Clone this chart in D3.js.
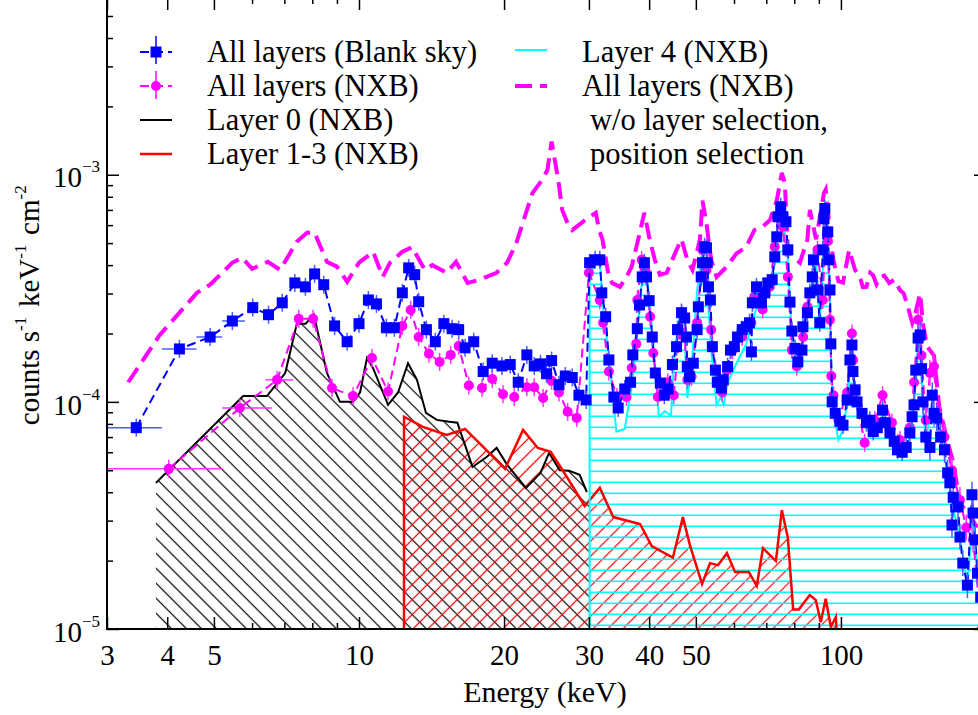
<!DOCTYPE html>
<html>
<head>
<meta charset="utf-8">
<style>
  body { margin: 0; background: #fff; }
  svg { display: block; font-family: "Liberation Serif", "Times New Roman", serif; }
</style>
</head>
<body>
<svg width="978" height="715"></svg>
<script src="https://cdn.jsdelivr.net/npm/d3@7"></script>
<script>
// ---- data: [energy keV, counts s^-1 keV^-1 cm^-2] ----
const blankSky = [[3.45,7.7e-5],[4.24,1.71e-4],[4.91,1.93e-4],[5.46,2.27e-4],[6.02,2.6e-4],[6.49,2.42e-4],[6.93,2.73e-4],[7.36,3.34e-4],[7.74,3.21e-4],[8.09,3.66e-4],[8.45,3.28e-4],[8.9,2.16e-4],[9.45,1.84e-4],[10.0,2.21e-4],[10.46,2.81e-4],[10.87,2.7e-4],[11.4,2.12e-4],[11.84,2.12e-4],[12.3,3.02e-4],[12.68,3.89e-4],[13.05,3.63e-4],[13.3,2.76e-4],[13.8,2.08e-4],[14.4,1.84e-4],[15.0,2.21e-4],[15.6,2.1e-4],[16.1,2.08e-4],[16.6,1.73e-4],[17.3,1.84e-4],[18.1,1.36e-4],[18.9,1.48e-4],[19.8,1.44e-4],[20.6,1.46e-4],[21.4,1.22e-4],[22.3,1.61e-4],[23.1,1.44e-4],[23.8,1.47e-4],[24.5,1.33e-4],[25.1,1.52e-4],[26.0,1.19e-4],[26.8,1.3e-4],[27.7,1.28e-4],[28.6,1.07e-4],[29.6,1.02e-4],
  [30.1,4.1e-4],[30.9,4.22e-4],[31.6,4.22e-4],[31.9,3.02e-4],[32.5,2.37e-4],[33.0,1.53e-4],[33.8,1.05e-4],[34.5,9.4e-5],[35.6,1.14e-4],[36.6,1.22e-4],[37.0,1.61e-4],[37.8,2.1e-4],[38.2,2.67e-4],[38.7,3.55e-4],[39.1,4.1e-4],[39.5,3.55e-4],[40.0,2.79e-4],[40.6,1.93e-4],[41.2,1.34e-4],[42.2,1.21e-4],[43.0,1.07e-4],[43.8,1.14e-4],[44.7,1.46e-4],[45.6,1.75e-4],[45.8,2.08e-4],[46.7,2.47e-4],[47.4,2.34e-4],[47.8,1.93e-4],[48.0,1.43e-4],[48.5,1.29e-4],[49.4,1.48e-4],[50.3,2.08e-4],[50.6,2.62e-4],[51.3,3.55e-4],[51.6,4.1e-4],[52.1,4.82e-4],[52.6,4.77e-4],[52.8,4.1e-4],[53.1,3.21e-4],[53.6,2.81e-4],[54.1,1.75e-4],[54.9,1.38e-4],[55.4,1.22e-4],[56.5,1.15e-4],[57.0,1.25e-4],[58.2,1.43e-4],[59.0,1.69e-4],[60.1,1.75e-4],[61.0,1.93e-4],[62.4,2.08e-4],[63.6,2.14e-4],[64.6,2.23e-4],[65.2,1.66e-4],[65.5,2.73e-4],[66.8,3.21e-4],[68.4,2.73e-4],[69.5,3.02e-4],[70.5,3.34e-4],[72.0,3.45e-4],[72.9,4.35e-4],[73.6,5.33e-4],[74.0,6.53e-4],[75.0,7.23e-4],[75.8,6.53e-4],[76.9,6.21e-4],[77.6,4.67e-4],[78.4,2.75e-4],[79.1,2.05e-4],[80.3,1.72e-4],[81.4,1.5e-4],[83.0,1.69e-4],[83.4,2.14e-4],[85.2,2.47e-4],[86.2,3.02e-4],[87.2,3.55e-4],[87.7,4.22e-4],[89.4,3.11e-4],[90.4,2.23e-4],[91.7,4.67e-4],[92.2,6.4e-4],[92.6,7.1e-4],[93.9,5.6e-4],[94.4,4.22e-4],[94.9,3.11e-4],[95.3,1.8e-4],[95.9,1.0e-4],[97.3,8.9e-5],[99.5,8.2e-5],[101,7.9e-5],[103,1.02e-4],[104.4,1.53e-4],[105.4,1.78e-4],[105.9,1.36e-4],[107,1.13e-4],[108,1.0e-4],[110.6,8.9e-5],[113,8.1e-5],[114.8,8.3e-5],[116.7,7.4e-5],[119,7.7e-5],[122,9.2e-5],[123.6,8.1e-5],[126.4,7.3e-5],[129,6.7e-5],[131,6.15e-5],[134,6.0e-5],[136.6,6.3e-5],[139,7.3e-5],[140.5,8.6e-5],[141.8,9.7e-5],[143,1.38e-4],[144.6,1.91e-4],[146,1.97e-4],[147,1.4e-4],[148,1.0e-4],[150,7.0e-5],[153,6.3e-5],[154.7,1.07e-4],[156,8.9e-5],[158,8.5e-5],[161,7.0e-5],[164,6.15e-5],[166.5,4.87e-5],[168.3,4.4e-5],[170,2.87e-5],[171,3.8e-5],[175,3.45e-5],[176.6,2.54e-5],[179,1.95e-5],[183,1.56e-5],[187,3.9e-5],[188,3.24e-5],[190,2.47e-5],[192,1.76e-5],[195,1.38e-5]];
const blankSkyBins = [[3.0,3.9],[3.9,4.6],[4.6,5.2],[5.2,5.8]];

const nxbAll = [[4.03,5.07e-5],[5.66,9.4e-5],[6.76,1.25e-4],[7.5,2.32e-4],[8.03,2.32e-4],[8.79,1.15e-4],[9.72,1.06e-4],[10.64,1.56e-4],[11.49,1.11e-4],[12.3,2.16e-4],[12.8,2.54e-4],[13.3,1.93e-4],[13.97,1.63e-4],[14.7,1.5e-4],[15.5,1.61e-4],[16.1,1.76e-4],[16.9,1.18e-4],[18.0,1.15e-4],[18.9,1.26e-4],[19.9,1.08e-4],[21.0,1.05e-4],[22.3,1.16e-4],[23.1,1.16e-4],[24.1,1.04e-4],[25.1,1.24e-4],[26.0,1.1e-4],[27.1,9.04e-5],[28.3,8.5e-5],
  [30.0,3.7e-4],[31.6,2.8e-4],[32.1,2.23e-4],[33.0,1.36e-4],[34.3,1.05e-4],[35.9,1.05e-4],[36.8,1.41e-4],[37.6,1.8e-4],[37.8,2.81e-4],[38.6,4.22e-4],[39.3,3.8e-4],[40.2,2.37e-4],[40.8,1.64e-4],[41.7,1.05e-4],[43.7,1.22e-4],[45.0,1.07e-4],[46.7,2.47e-4],[47.4,1.93e-4],[48.0,1.25e-4],[49.0,1.29e-4],[50.3,2.23e-4],[51.6,4.67e-4],[52.6,3.8e-4],[53.8,2.08e-4],[55.4,1.21e-4],[56.7,1.1e-4],[58.0,1.38e-4],[59.6,1.69e-4],[62.4,1.93e-4],[65.2,2.23e-4],[66.1,2.9e-4],[68.8,2.55e-4],[71.2,3.21e-4],[72.9,4.82e-4],[74.0,6.53e-4],[75.8,5.9e-4],[77.6,3.55e-4],[79.1,1.69e-4],[81.0,1.43e-4],[83.5,1.93e-4],[85.2,2.62e-4],[87.7,3.55e-4],[89.4,4.67e-4],[91.7,2.81e-4],[93.0,6.53e-4],[93.9,5.1e-4],[94.9,2.3e-4],[95.5,1.3e-4],[96.5,1.07e-4],[98.8,8.3e-5],[103,1.1e-4],[105.4,2.0e-4],[106,1.53e-4],[107,1.1e-4],[112,6.6e-5],[117.6,8.3e-5],[122,1.07e-4],[127.6,8.1e-5],[132.6,6.8e-5],[139,7.7e-5],[141.8,1.22e-4],[144.6,2.3e-4],[147,1.6e-4],[150,8.3e-5],[153,1.34e-4],[156,1.43e-4],[159,8.3e-5],[164,7.0e-5],[170,5.0e-5],[176.6,3.7e-5],[182,2.8e-5],[188,2.47e-5],[196,1.0e-5]];
const nxbAllBins = [[3.0,5.2],[5.2,6.6],[6.4,7.3]];

const layer0 = [[3.79,4.4e-5],[5.75,1.06e-4],[6.44,1.06e-4],[7.03,1.34e-4],[7.43,2.21e-4],[7.75,2.21e-4],[8.06,2.42e-4],[8.58,1.34e-4],[9.13,1.0e-4],[9.72,1.0e-4],[10.05,1.1e-4],[10.39,1.56e-4],[10.69,1.41e-4],[11.49,9.7e-5],[12.05,1.1e-4],[12.64,1.48e-4],[13.19,1.25e-4],[13.77,8.94e-5],[14.5,8.33e-5],[15.4,8.17e-5],[16.0,8.1e-5],[17.2,5.17e-5],[18.4,5.72e-5],[19.3,6.27e-5],[20.3,5.28e-5],[22.2,4.18e-5],[23.8,4.87e-5],[24.8,5.96e-5],[26.1,5.0e-5],[27.3,4.97e-5],[28.7,4.77e-5],[29.7,4.01e-5]];

const layer13 = [[12.4,8.6e-5],[13.57,7.76e-5],[15.2,7.15e-5],[16.6,7.6e-5],[18.1,6.34e-5],[20.1,5.07e-5],[21.9,7.53e-5],[23.5,6.27e-5],[25.0,6.03e-5],[27.0,4.67e-5],[29.4,3.48e-5],[31.6,4.18e-5],[33.7,3.11e-5],[38.3,2.9e-5],[40.5,2.32e-5],[44.8,2.06e-5],[47.0,3.11e-5],[48.6,2.34e-5],[51.5,1.58e-5],[53.5,1.95e-5],[55.6,1.91e-5],[58.0,2.16e-5],[60.3,1.78e-5],[64.4,1.78e-5],[66.9,1.55e-5],[68.9,2.27e-5],[73.3,1.99e-5],[75.4,3.34e-5],[77.6,2.52e-5],[79.6,1.22e-5],[81.8,1.22e-5],[86.2,1.41e-5],[88.7,1.34e-5],[90.8,1.07e-5],[93.0,1.36e-5],[95.3,1.02e-5],[97.6,1.13e-5],[98.5,8e-6]];

const layer4 = [[30.1,3.7e-4],[31.6,4.2e-4],[32.1,2.6e-4],[33.2,1.43e-4],[34.2,7.4e-5],[35.6,7.6e-5],[36.9,1.21e-4],[37.6,1.8e-4],[38.6,3.3e-4],[39.3,4.1e-4],[40.2,2.6e-4],[41.1,1.48e-4],[41.9,8.6e-5],[43.1,9.1e-5],[44.4,8.7e-5],[45.1,1.58e-4],[46.4,2.55e-4],[47.4,1.93e-4],[48.0,1.04e-4],[49.0,1.43e-4],[50.3,3.1e-4],[51.6,4.67e-4],[52.8,3.2e-4],[53.8,1.69e-4],[55.2,9.7e-5],[56.3,1.05e-4],[57.1,9.7e-5],[58.2,1.21e-4],[60.7,1.48e-4],[63.6,1.8e-4],[66.8,2.6e-4],[71.2,3.0e-4],[72.9,4.22e-4],[74.0,6.5e-4],[75.8,6.5e-4],[77.6,4.2e-4],[79.1,1.93e-4],[81.0,1.38e-4],[83.4,1.93e-4],[85.6,2.62e-4],[88.8,4.2e-4],[90.4,2.23e-4],[93.0,6.5e-4],[94.4,4.0e-4],[94.9,3.0e-4],[95.5,1.4e-4],[96.5,9.0e-5],[98.8,6.8e-5],[101,7.5e-5],[103,1.0e-4],[104.4,1.5e-4],[105.4,1.7e-4],[106,1.3e-4],[108,9.5e-5],[110.6,8.5e-5],[113,7.6e-5],[116.7,7.0e-5],[119,7.4e-5],[122,8.8e-5],[126.4,7.0e-5],[131,5.9e-5],[134,5.7e-5],[139,7.0e-5],[141.8,9.5e-5],[144.6,1.85e-4],[146,1.9e-4],[148,9.5e-5],[150,6.7e-5],[154.7,1.0e-4],[158,8.2e-5],[164,5.9e-5],[168.3,4.2e-5],[171,3.4e-5],[176.6,2.5e-5],[183,1.6e-5],[188,3.1e-5],[192,1.8e-5],[200,1.4e-5]];

const nxbNoSel = [[3.32,1.22e-4],[3.86,1.97e-4],[4.61,3.02e-4],[4.91,3.28e-4],[5.46,4.1e-4],[5.72,4.31e-4],[6.0,3.85e-4],[6.47,4.14e-4],[6.86,3.81e-4],[7.43,5.07e-4],[7.8,5.55e-4],[8.09,5.55e-4],[8.58,4.14e-4],[9.0,3.94e-4],[9.45,3.38e-4],[10.0,4.1e-4],[10.7,4.58e-4],[11.2,3.55e-4],[11.6,4.1e-4],[12.3,4.58e-4],[12.9,4.8e-4],[13.4,4.14e-4],[13.7,3.81e-4],[14.2,4.0e-4],[15.2,3.7e-4],[15.9,4.14e-4],[16.8,3.34e-4],[17.8,3.45e-4],[19.3,3.7e-4],[20.3,4.1e-4],[21.2,5.0e-4],[22.9,8.3e-4],[24.0,9.5e-4],[24.6,1.05e-3],[25.1,1.4e-3],[25.6,1.1e-3],[26.0,9.0e-4],[26.4,7.0e-4],[27.2,6.0e-4],[27.7,5.7e-4],[29.4,6.3e-4],[31.0,6.8e-4],[31.5,5.7e-4],[32.0,5.2e-4],[33.0,3.55e-4],[33.5,3.34e-4],[34.8,3.21e-4],[35.9,3.55e-4],[36.8,3.94e-4],[37.8,5.0e-4],[39.1,6.8e-4],[40.0,5.33e-4],[41.1,4.22e-4],[42.1,3.63e-4],[43.5,3.7e-4],[45.6,4.67e-4],[46.7,5.2e-4],[48.0,4.22e-4],[49.2,3.81e-4],[51.0,5.2e-4],[51.6,7.7e-4],[52.6,6.1e-4],[53.8,4.22e-4],[55.2,3.55e-4],[58.0,3.94e-4],[60.7,4.5e-4],[63.6,4.8e-4],[66.1,5.7e-4],[68.8,5.9e-4],[71.2,6.3e-4],[73.6,7.7e-4],[75.4,1.02e-3],[76.5,9.2e-4],[77.6,4.67e-4],[79.6,4.35e-4],[82.2,4.1e-4],[85.2,5.2e-4],[86.2,7.0e-4],[88.8,5.2e-4],[92.2,8.3e-4],[93.0,8.6e-4],[94.9,5.3e-4],[96.5,4.2e-4],[98.8,3.4e-4],[101,3.35e-4],[104,4.67e-4],[107,3.81e-4],[109.5,3.55e-4],[111,3.2e-4],[113,3.21e-4],[115,3.7e-4],[116.7,3.6e-4],[118.5,3.3e-4],[120.5,3.55e-4],[123,3.6e-4],[126,3.34e-4],[129,3.45e-4],[132.6,3.11e-4],[135,3.0e-4],[137.7,2.62e-4],[140.6,2.23e-4],[143,2.5e-4],[146,3.0e-4],[148,2.2e-4],[151,1.75e-4],[156,1.6e-4],[160,9.5e-5],[165.5,7.0e-5],[171,5.4e-5],[176.6,3.6e-5],[183,3.24e-5],[192,2.8e-5]];

const xLabelled = [3, 4, 5, 10, 20, 30, 40, 50, 100];
const xMajor = [3, 4, 5, 10, 20, 30, 40, 50, 100, 200];
const xMinor = [6, 7, 8, 9, 60, 70, 80, 90];
const yMajor = [1e-5, 1e-4, 1e-3];
const yMinor = [2e-5,3e-5,4e-5,5e-5,6e-5,7e-5,8e-5,9e-5,2e-4,3e-4,4e-4,5e-4,6e-4,7e-4,8e-4,9e-4,2e-3,3e-3,4e-3,5e-3];

// ---- layout ----
const svg = d3.select("svg");
const x = d3.scaleLog().domain([3, 200]).range([107, 986]);
const y = d3.scaleLog().domain([1e-5, 6e-3]).range([629, -2]);
const base = y.domain()[0];

const defs = svg.append("defs");
defs.append("clipPath").attr("id", "plot")
  .append("rect").attr("x", 107).attr("y", -2).attr("width", 879).attr("height", 631);

function diagHatch(id, color, angle) {
  let p = defs.append("pattern").attr("id", id)
    .attr("patternUnits", "userSpaceOnUse")
    .attr("width", 10.6).attr("height", 10.6)
    .attr("patternTransform", `rotate(${angle})`);
  p.append("line").attr("x1", 5.3).attr("x2", 5.3).attr("y1", -1).attr("y2", 12)
    .attr("stroke", color).attr("stroke-width", 1.2);
}
diagHatch("hatch-black", "#000", -45);
diagHatch("hatch-red", "#ff0000", 45);
let pc = defs.append("pattern").attr("id", "hatch-cyan")
  .attr("patternUnits", "userSpaceOnUse").attr("width", 20).attr("height", 11);
pc.append("line").attr("x1", 0).attr("x2", 20).attr("y1", 9.3).attr("y2", 9.3)
  .attr("stroke", "#00ffff").attr("stroke-width", 1.6);

const g = svg.append("g").attr("clip-path", "url(#plot)");

let area = d3.area().x(d => x(d[0])).y0(y(base)).y1(d => y(d[1]));
let line = d3.line().x(d => x(d[0])).y(d => y(d[1]));

// hatched fills
g.append("path").datum(layer0.concat([[30, layer0[layer0.length - 1][1]]]))
  .attr("d", area).attr("fill", "url(#hatch-black)");
g.append("path").datum(layer13).attr("d", area).attr("fill", "url(#hatch-red)");
g.append("path").datum(layer4).attr("d", area).attr("fill", "url(#hatch-cyan)");

// layer lines
g.append("path").datum(layer0).attr("d", line)
  .attr("fill", "none").attr("stroke", "#000").attr("stroke-width", 2);
g.append("path").datum([[layer13[0][0], base]].concat(layer13)).attr("d", line)
  .attr("fill", "none").attr("stroke", "#ff0000").attr("stroke-width", 2.5);
g.append("path").datum([[layer4[0][0], base]].concat(layer4)).attr("d", line)
  .attr("fill", "none").attr("stroke", "#00ffff").attr("stroke-width", 2);

// all layers without selection
g.append("path").datum(nxbNoSel).attr("d", line)
  .attr("fill", "none").attr("stroke", "#ff00ff").attr("stroke-width", 4)
  .attr("stroke-dasharray", "17,8");

function dataSeries(data, bins, color, barColor, marker) {
  let s = g.append("g");
  s.append("path").datum(data).attr("d", line)
    .attr("fill", "none").attr("stroke", color).attr("stroke-width", 2)
    .attr("stroke-dasharray", "9,5");
  // vertical error bars
  s.selectAll(".ey").data(data).join("line")
    .attr("x1", d => x(d[0])).attr("x2", d => x(d[0]))
    .attr("y1", d => y(d[1]) - (d[0] > 140 ? 13 : 9))
    .attr("y2", d => y(d[1]) + (d[0] > 140 ? 13 : 9))
    .attr("stroke", barColor).attr("stroke-width", 1.5);
  // energy bins
  s.selectAll(".ex").data(bins).join("line")
    .attr("x1", d => x(d[0])).attr("x2", d => x(d[1]))
    .attr("y1", (d, i) => y(data[i][1])).attr("y2", (d, i) => y(data[i][1]))
    .attr("stroke", barColor).attr("stroke-width", 1.5);
  if (marker === "square") {
    s.selectAll(".m").data(data).join("rect")
      .attr("x", d => x(d[0]) - 5.5).attr("y", d => y(d[1]) - 5.5)
      .attr("width", 11).attr("height", 11).attr("fill", color);
  } else {
    s.selectAll(".m").data(data).join("circle")
      .attr("cx", d => x(d[0])).attr("cy", d => y(d[1])).attr("r", 5)
      .attr("fill", color);
  }
}
dataSeries(nxbAll, nxbAllBins, "#ff00ff", "#ff33ff", "circle");
dataSeries(blankSky, blankSkyBins, "#0000ff", "#4a5cff", "square");

// ---- frame and axes ----
svg.append("rect").attr("x", 107).attr("y", -2).attr("width", 879).attr("height", 631)
  .attr("fill", "none").attr("stroke", "#000").attr("stroke-width", 2);

function ticks(axis, pos, size) {
  let a = svg.append("g").attr("transform", pos).call(axis.tickSize(size));
  a.select(".domain").remove();
  a.selectAll(".tick line").attr("stroke", "#000").attr("stroke-width", 1.5);
  return a;
}

let bx = ticks(d3.axisBottom(x).tickValues(xLabelled).tickFormat(d3.format("d")).tickPadding(15),
  "translate(0,629)", -12);
bx.selectAll("text").attr("font-size", 29).attr("fill", "#000")
  .attr("font-family", "Liberation Serif");
ticks(d3.axisBottom(x).tickValues(xMinor).tickFormat(""), "translate(0,629)", -6);
ticks(d3.axisTop(x).tickValues(xMajor).tickFormat(""), "translate(0,-2)", -12);
ticks(d3.axisTop(x).tickValues(xMinor).tickFormat(""), "translate(0,-2)", -6);

let ly = ticks(d3.axisLeft(y).tickValues(yMajor).tickFormat("").tickPadding(7),
  "translate(107,0)", -12);
ly.selectAll("text")
  .attr("font-size", 29).attr("fill", "#000").attr("font-family", "Liberation Serif")
  .attr("dy", "0.42em")
  .each(function (d) {
    let t = d3.select(this);
    t.append("tspan").text("10");
    t.append("tspan").attr("font-size", 17).attr("dy", -15)
      .text("\u2212" + Math.round(-Math.log10(d)));
  });
ticks(d3.axisLeft(y).tickValues(yMinor).tickFormat(""), "translate(107,0)", -6);
ticks(d3.axisRight(y).tickValues(yMajor).tickFormat(""), "translate(986,0)", -12);
ticks(d3.axisRight(y).tickValues(yMinor).tickFormat(""), "translate(986,0)", -6);

svg.append("text").attr("x", 545).attr("y", 702).attr("text-anchor", "middle")
  .attr("font-size", 30).text("Energy (keV)");

let yt = svg.append("text").attr("transform", "translate(39,304) rotate(-90)")
  .attr("text-anchor", "middle").attr("font-size", 29);
[["counts s", "-1"], [" keV", "-1"], [" cm", "-2"]].forEach(p => {
  yt.append("tspan").text(p[0]);
  yt.append("tspan").attr("font-size", 17).attr("dy", -13).text(p[1]);
  yt.append("tspan").attr("dy", 13).text("\u200a");
});

// ---- legend ----
let leg = svg.append("g").attr("font-size", 30.5);
function legText(tx, ty, label) {
  leg.append("text").attr("x", tx).attr("y", ty).text(label);
}
// blank sky
leg.append("line").attr("x1", 140).attr("x2", 172).attr("y1", 52).attr("y2", 52)
  .attr("stroke", "#0000ff").attr("stroke-width", 2).attr("stroke-dasharray", "9,5");
leg.append("line").attr("x1", 156).attr("x2", 156).attr("y1", 36).attr("y2", 64)
  .attr("stroke", "#0000ff").attr("stroke-width", 1.5);
leg.append("rect").attr("x", 150.5).attr("y", 46.5).attr("width", 11).attr("height", 11).attr("fill", "#0000ff");
legText(207, 62, "All layers (Blank sky)");
// nxb all layers
leg.append("line").attr("x1", 140).attr("x2", 172).attr("y1", 86).attr("y2", 86)
  .attr("stroke", "#ff00ff").attr("stroke-width", 2).attr("stroke-dasharray", "9,5");
leg.append("line").attr("x1", 156).attr("x2", 156).attr("y1", 71).attr("y2", 99)
  .attr("stroke", "#ff00ff").attr("stroke-width", 1.5);
leg.append("circle").attr("cx", 156).attr("cy", 86).attr("r", 5).attr("fill", "#ff00ff");
legText(207, 96, "All layers (NXB)");
// layer 0
leg.append("line").attr("x1", 140).attr("x2", 172).attr("y1", 120).attr("y2", 120)
  .attr("stroke", "#000").attr("stroke-width", 2);
legText(207, 130, "Layer 0 (NXB)");
// layer 1-3
leg.append("line").attr("x1", 140).attr("x2", 172).attr("y1", 154).attr("y2", 154)
  .attr("stroke", "#ff0000").attr("stroke-width", 2.5);
legText(207, 164, "Layer 1-3 (NXB)");
// layer 4
leg.append("line").attr("x1", 515).attr("x2", 547).attr("y1", 50).attr("y2", 50)
  .attr("stroke", "#00ffff").attr("stroke-width", 2);
legText(582, 62, "Layer 4 (NXB)");
// no selection
leg.append("line").attr("x1", 515).attr("x2", 547).attr("y1", 86).attr("y2", 86)
  .attr("stroke", "#ff00ff").attr("stroke-width", 4).attr("stroke-dasharray", "17,8");
legText(582, 96, "All layers (NXB)");
legText(590, 130, "w/o layer selection,");
legText(590, 164, "position selection");
</script>
</body>
</html>
